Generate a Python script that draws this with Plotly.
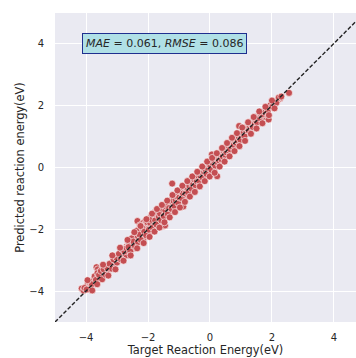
import plotly.graph_objects as go

target = [
    -4.14, -4.08, -4.02, -3.96, -3.92, -3.88, -3.83, -3.78, -3.74, -3.70, -3.66, -3.62, -3.60, -3.57, -3.54,
    -3.50, -3.47, -3.44, -3.40, -3.37, -3.33, -3.30, -3.26, -3.22, -3.18, -3.13, -3.09, -3.04, -3.00, -2.96,
    -2.92, -2.88, -2.85, -2.81, -2.78, -2.74, -2.71, -2.68, -2.65, -2.62, -2.58, -2.55, -2.52, -2.49, -2.46,
    -2.43, -2.40, -2.37, -2.34, -2.31, -2.28, -2.25, -2.22, -2.19, -2.16, -2.13, -2.10, -2.07, -2.04, -2.01,
    -2.45, -2.60, -2.70, -2.30, -2.20, -2.50, -2.08, -2.15, -2.38, -2.26,
    -1.98, -1.96, -1.94, -1.92, -1.90, -1.88, -1.86, -1.84, -1.82, -1.80, -1.78, -1.76, -1.74, -1.72, -1.70,
    -1.68, -1.66, -1.64, -1.62, -1.60, -1.58, -1.56, -1.54, -1.52, -1.50, -1.48, -1.46, -1.45, -1.43, -1.41,
    -1.39, -1.37, -1.35, -1.33, -1.31, -1.29, -1.27, -1.25, -1.22, -1.20, -1.18, -1.16, -1.14, -1.12, -1.10,
    -1.08, -1.06, -1.04, -1.02, -1.00,
    -0.98, -0.96, -0.94, -0.92, -0.90, -0.88, -0.86, -0.84, -0.82, -0.80, -0.78, -0.76, -0.74, -0.72, -0.70,
    -0.68, -0.66, -0.64, -0.62, -0.60, -0.58, -0.56, -0.54, -0.52, -0.50, -0.48, -0.46, -0.44, -0.42, -0.40,
    -0.38, -0.36, -0.34, -0.32, -0.30, -0.28, -0.26, -0.24, -0.22, -0.20, -0.18, -0.16, -0.14, -0.12, -0.10,
    -0.08, -0.06, -0.04, -0.02, 0.00,
    0.02, 0.04, 0.06, 0.08, 0.10, 0.12, 0.14, 0.16, 0.18, 0.20, 0.23, 0.24, 0.26, 0.28, 0.30,
    0.32, 0.34, 0.36, 0.38, 0.40, 0.42, 0.44, 0.46, 0.48, 0.50, 0.52, 0.54, 0.56, 0.58, 0.60,
    0.62, 0.64, 0.66, 0.68, 0.70, 0.72, 0.75, 0.78, 0.80, 0.83, 0.86, 0.88, 0.91, 0.94, 0.97,
    1.00, 1.03, 1.06, 1.09, 1.12, 1.15, 1.18, 1.21, 1.24, 1.27, 1.30, 1.33, 1.36, 1.39, 1.42,
    1.45, 1.48, 1.51, 1.54, 1.57, 1.60, 1.64, 1.68, 1.72, 1.76, 1.80, 1.84, 1.89, 1.93, 1.98,
    2.04, 2.10, 2.18, 2.26, 2.55,
    -4.05, -3.98, -3.86, -3.81, -3.72, -3.68, -3.63, -3.58, -3.52, -3.48, -3.43, -3.36, -3.31, -3.24, -3.16,
    -3.11, -3.02, -2.94, -2.87, -2.83, -2.76, -2.69, -2.63, -2.57, -2.53, -2.47, -2.42, -2.36, -2.32, -2.27,
    -2.23, -2.17, -2.12, -2.06, -2.02, -1.97, -1.93, -1.89, -1.85, -1.81, -1.77, -1.73, -1.69, -1.65, -1.61,
    -1.57, -1.53, -1.49, -1.44, -1.40, -1.36, -1.32, -1.28, -1.24, -1.19, -1.15, -1.11, -1.07, -1.03, -0.99,
    -0.95, -0.91, -0.87, -0.83, -0.79, -0.75, -0.71, -0.67, -0.63, -0.59, -0.55, -0.51, -0.47, -0.43, -0.39,
    -0.35, -0.31, -0.27, -0.23, -0.19, -0.15, -0.11, -0.07, -0.03, 0.01, 0.05, 0.09, 0.13, 0.17, 0.21,
    0.25, 0.29, 0.33, 0.37, 0.41, 0.45, 0.49, 0.53, 0.57, 0.61, 0.65, 0.69, 0.73, 0.77, 0.81,
    0.85, 0.89, 0.93, 0.98, 1.02, 1.07, 1.11, 1.16, 1.20, 1.25, 1.29, 1.34, 1.38, 1.43, 1.47,
    1.52, 1.56, 1.61, 1.66, 1.70, 1.78, 1.86, 1.95, 2.01, 2.14, 2.22, 2.30,
    -3.95, -3.80, -3.64, -3.45, -3.28, -3.15, -3.05, -2.90, -2.79, -2.66, -2.56, -2.44, -2.35, -2.24, -2.14,
    -2.05, -1.95, -1.87, -1.79, -1.71, -1.63, -1.55, -1.47, -1.38, -1.30, -1.21, -1.13, -1.05, -0.97, -0.89,
    -0.81, -0.73, -0.65, -0.57, -0.49, -0.41, -0.33, -0.25, -0.17, -0.09, -0.01, 0.07, 0.15, 0.22, 0.31,
    0.39, 0.47, 0.55, 0.63, 0.71, 0.79, 0.87, 0.95, 1.04, 1.13, 1.23, 1.32, 1.41, 1.50, 1.59,
    1.69, 1.79, 1.90, 2.00, 2.08,
]
predicted = [
    -3.92, -3.98, -3.88, -3.82, -3.95, -3.76, -3.85, -3.70, -3.60, -3.72, -3.23, -3.30, -3.50, -3.62, -3.38,
    -3.55, -3.28, -3.45, -3.36, -3.22, -3.42, -3.18, -3.30, -3.15, -3.24, -3.05, -3.16, -2.98, -3.08, -2.86,
    -2.95, -2.78, -2.90, -2.70, -2.82, -2.62, -2.75, -2.55, -2.70, -2.48, -2.60, -2.40, -2.58, -2.35, -2.50,
    -2.25, -2.45, -2.18, -1.74, -2.30, -2.05, -2.28, -1.95, -2.15, -1.80, -2.25, -1.98, -2.12, -1.85, -2.05,
    -2.62, -2.45, -2.85, -2.15, -2.05, -2.28, -1.72, -2.32, -2.30, -1.88,
    -1.75, -1.95, -2.10, -1.62, -1.85, -2.00, -1.55, -1.78, -1.92, -1.68, -1.45, -1.82, -1.60, -1.40, -1.88,
    -1.55, -1.70, -1.38, -1.62, -1.80, -1.45, -1.30, -1.65, -1.50, -1.90, -1.35, -1.55, -1.88, -1.25, -1.45,
    -1.60, -1.20, -1.38, -1.52, -1.15, -1.30, -1.45, -1.05, -0.53, -1.22, -1.38, -1.00, -1.15, -1.30, -0.92,
    -1.08, -1.25, -0.85, -1.02, -1.18,
    -0.80, -0.95, -1.10, -0.72, -0.88, -1.02, -1.27, -0.68, -0.82, -0.95, -0.60, -0.75, -0.90, -0.55, -0.70,
    -0.85, -0.50, -0.65, -0.78, -0.42, -0.58, -0.72, -0.38, -0.52, -0.66, -0.32, -0.46, -0.60, -0.28, -0.40,
    -0.55, -0.22, -0.35, -0.48, -0.18, -0.30, -0.42, -0.12, -0.24, -0.36, -0.05, -0.18, -0.30, 0.00, -0.12,
    -0.24, 0.05, -0.05, -0.18, 0.10,
    -0.02, 0.15, 0.41, -0.05, 0.20, 0.05, -0.08, 0.28, 0.12, 0.02, -0.29, 0.35, 0.20, 0.10, 0.42,
    0.25, 0.18, 0.48, 0.30, 0.22, 0.55, 0.36, 0.28, 0.60, 0.42, 0.35, 0.66, 0.48, 0.40, 0.72,
    0.55, 0.48, 0.80, 0.62, 0.52, 0.85, 0.68, 0.60, 0.92, 0.75, 0.70, 1.00, 0.84, 1.33, 0.92,
    1.08, 0.95, 1.15, 1.02, 1.22, 1.08, 1.30, 1.15, 1.36, 1.20, 1.42, 1.28, 1.48, 1.32, 1.55,
    1.40, 1.60, 1.45, 1.65, 1.50, 1.70, 1.55, 1.75, 1.62, 1.82, 1.70, 1.88, 1.54, 1.92, 1.98,
    2.00, 2.12, 2.15, 2.22, 2.40,
    -3.90, -3.95, -3.70, -3.78, -3.52, -3.64, -3.42, -3.48, -3.35, -3.62, -3.30, -3.48, -3.25, -3.12, -3.28,
    -2.98, -2.92, -2.80, -2.98, -2.65, -2.72, -2.62, -2.58, -2.72, -2.30, -2.40, -2.55, -2.05, -2.42, -2.18,
    -2.35, -1.98, -2.08, -2.20, -1.78, -2.02, -1.80, -1.70, -1.95, -1.52, -1.72, -1.85, -1.48, -1.60, -1.50,
    -1.72, -1.35, -1.58, -1.40, -1.28, -1.52, -1.32, -1.10, -1.35, -1.08, -1.25, -1.05, -0.95, -1.15, -0.98,
    -0.78, -1.00, -0.85, -0.62, -0.85, -0.65, -0.82, -0.60, -0.48, -0.70, -0.52, -0.40, -0.58, -0.45, -0.30,
    -0.45, -0.28, -0.20, -0.35, -0.15, -0.08, -0.22, -0.02, 0.08, 0.05, -0.10, 0.12, 0.22, 0.05, 0.30,
    0.15, 0.22, 0.38, 0.25, 0.35, 0.52, 0.40, 0.48, 0.62, 0.52, 0.58, 0.75, 0.65, 0.72, 0.85,
    0.78, 0.86, 0.98, 0.88, 1.05, 1.10, 1.00, 1.20, 1.25, 1.18, 1.33, 1.38, 1.30, 1.46, 1.52,
    1.45, 1.62, 1.58, 1.68, 1.72, 1.78, 1.80, 2.00, 1.95, 2.08, 2.25, 2.28,
    -3.65, -3.98, -3.78, -3.15, -3.50, -2.85, -3.30, -2.60, -3.02, -2.35, -2.85, -2.10, -2.62, -1.90, -2.45,
    -1.68, -2.25, -1.50, -2.08, -1.35, -1.95, -1.22, -1.78, -1.08, -1.62, -0.90, -1.45, -0.75, -1.30, -0.60,
    -1.12, -0.45, -0.95, -0.30, -0.80, -0.15, -0.62, 0.02, -0.45, 0.18, -0.30, 0.30, -0.18, 0.45, 0.02,
    0.62, 0.18, 0.78, 0.35, 0.95, 0.52, 1.10, 0.68, 1.28, 0.85, 1.45, 1.08, 1.62, 1.25, 1.80,
    1.42, 1.95, 1.68, 2.15, 1.90,
]

diag = [-5, 5]
tick_vals = [-4, -2, 0, 2, 4]
annotation_text = "<i>MAE</i> = 0.061, <i>RMSE</i> = 0.086"

fig = go.Figure()
fig.add_trace(go.Scatter(
    x=target, y=predicted, mode="markers",
    marker=dict(size=7, color="#C44E52", line=dict(color="white", width=0.6)),
    showlegend=False,
))
fig.add_trace(go.Scatter(
    x=diag, y=diag, mode="lines",
    line=dict(color="#222222", width=1.4, dash="4px,2px"),
    showlegend=False,
))

fig.add_annotation(
    x=-1.48, y=4, xref="x", yref="y", text=annotation_text, showarrow=False,
    font=dict(family="DejaVu Sans", size=11, color="#262626"),
    bgcolor="#B0E0E6", bordercolor="#1F2F8F", borderwidth=1, borderpad=3,
)

axis_common = dict(
    tickvals=tick_vals, showgrid=True, gridcolor="white", gridwidth=1.2,
    zeroline=False, showline=False, ticks="outside", tickcolor="rgba(0,0,0,0)",
    tickfont=dict(family="DejaVu Sans", size=10, color="#262626"),
    title_font=dict(family="DejaVu Sans", size=11.4, color="#262626"),
)
fig.update_xaxes(range=[-5, 4.71], ticklen=6, title_text="Target Reaction Energy(eV)",
                 title_standoff=4, **axis_common)
fig.update_yaxes(range=[-5, 4.98], ticklen=8, title_text="Predicted reaction energy(eV)",
                 title_standoff=2, **axis_common)

fig.update_layout(
    width=356, height=358,
    margin=dict(l=55, r=0, t=13, b=36, pad=0),
    plot_bgcolor="#EAEAF2", paper_bgcolor="white",
    font=dict(family="DejaVu Sans"),
)
fig.write_html("out.html")
